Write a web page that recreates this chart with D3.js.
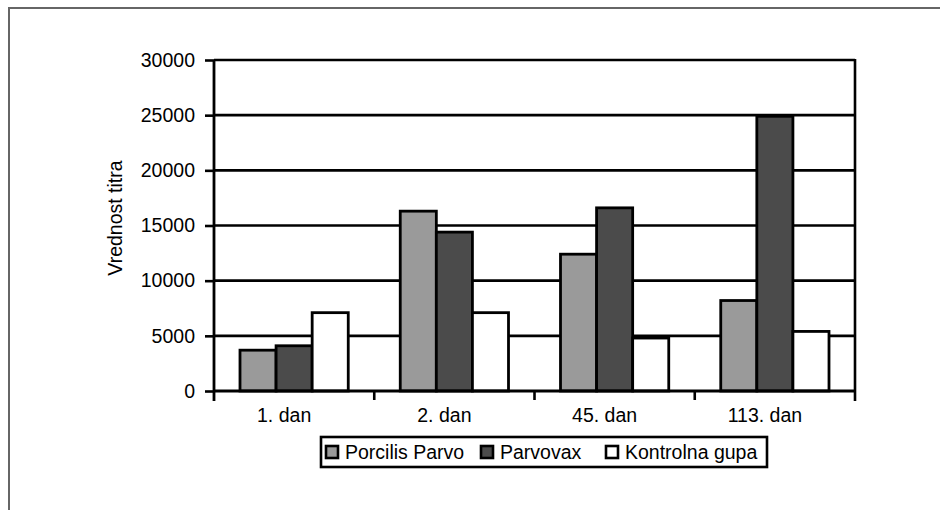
<!DOCTYPE html>
<html><head><meta charset="utf-8">
<script src="https://cdn.jsdelivr.net/npm/d3@7/dist/d3.min.js"></script>
<style>body{margin:0;background:#fff}svg{display:block;font-family:"Liberation Sans",Arial,sans-serif}</style>
</head><body>
<svg id="c" width="940" height="510"></svg>
<script>
const categories = ["1. dan", "2. dan", "45. dan", "113. dan"];
const seriesNames = ["Porcilis Parvo", "Parvovax", "Kontrolna gupa"];
const porcilisParvo = [3700, 16300, 12400, 8200];
const parvovax = [4100, 14400, 16600, 24900];
const kontrolnaGupa = [7100, 7100, 4800, 5400];
const yTicks = [0, 5000, 10000, 15000, 20000, 25000, 30000];
const yLabel = "Vrednost titra";
const colors = ["#9a9a9a", "#4b4b4b", "#ffffff"];

const series = [porcilisParvo, parvovax, kontrolnaGupa];
const svg = d3.select("#c");
const FONT = "Liberation Sans, Arial, sans-serif";

// outer frame
svg.append("rect").attr("x", 9).attr("y", 8).attr("width", 960).attr("height", 540)
  .attr("fill", "none").attr("stroke", "#666").attr("stroke-width", 2);

const L = 214, R = 855, T = 60, B = 391;
const x = d3.scaleBand().domain(categories).range([L, R]).paddingInner(0).paddingOuter(0);
const xi = d3.scaleBand().domain(d3.range(series.length)).range([26, x.bandwidth() - 26]);
const y = d3.scaleLinear().domain([0, 30000]).range([B, T]);

// gridlines
svg.append("g").selectAll("line").data(yTicks.filter(d => d > 0)).join("line")
  .attr("x1", L).attr("x2", R).attr("y1", d => y(d)).attr("y2", d => y(d))
  .attr("stroke", "#000").attr("stroke-width", 2.6);

// right border
svg.append("line").attr("x1", R).attr("x2", R).attr("y1", T - 1).attr("y2", B + 10)
  .attr("stroke", "#000").attr("stroke-width", 2.6);

// bars
const bars = [];
categories.forEach((c, i) => series.forEach((s, j) => bars.push({c, j, v: s[i]})));
svg.append("g").selectAll("rect").data(bars).join("rect")
  .attr("x", d => x(d.c) + xi(d.j))
  .attr("y", d => y(d.v))
  .attr("width", xi.bandwidth())
  .attr("height", d => y(0) - y(d.v))
  .attr("fill", d => colors[d.j]).attr("stroke", "#000").attr("stroke-width", 2.8);

// y axis
const ya = svg.append("g").attr("transform", `translate(${L},0)`)
  .call(d3.axisLeft(y).tickValues(yTicks).tickSize(9).tickPadding(10).tickFormat(d3.format("d")));
ya.select(".domain").attr("stroke", "#000").attr("stroke-width", 2.8).attr("d", `M0,${T}V${B + 10}`);
ya.selectAll(".tick line").attr("stroke", "#000").attr("stroke-width", 2.6);
ya.selectAll(".tick text").attr("font-size", 19.5).attr("fill", "#000").attr("font-family", FONT);

// x axis
const xa = svg.append("g").attr("transform", `translate(0,${B})`)
  .call(d3.axisBottom(x).tickSize(0).tickPadding(17));
xa.select(".domain").attr("stroke", "#000").attr("stroke-width", 2.8).attr("d", `M${L},0H${R}`);
xa.selectAll(".tick text").attr("font-size", 19.5).attr("fill", "#000").attr("font-family", FONT).attr("dx", -10);
// category separator ticks
svg.append("g").selectAll("line").data(categories.slice(1)).join("line")
  .attr("x1", d => x(d)).attr("x2", d => x(d)).attr("y1", B).attr("y2", B + 9)
  .attr("stroke", "#000").attr("stroke-width", 2.6);

// y label
svg.append("text").attr("transform", `translate(122,218) rotate(-90)`)
  .attr("text-anchor", "middle").attr("font-size", 19.5).attr("fill", "#000").text(yLabel);

// legend
const lg = svg.append("g");
lg.append("rect").attr("x", 321).attr("y", 437).attr("width", 446).attr("height", 30)
  .attr("fill", "#fff").attr("stroke", "#000").attr("stroke-width", 2.6);
const lx = [326, 481, 606];
seriesNames.forEach((n, j) => {
  lg.append("rect").attr("x", lx[j]).attr("y", 446).attr("width", 12).attr("height", 12)
    .attr("fill", colors[j]).attr("stroke", "#000").attr("stroke-width", 2.6);
  lg.append("text").attr("x", lx[j] + 19).attr("y", 459).attr("font-size", 19.5).attr("fill", "#000").text(n);
});
</script>
</body></html>
